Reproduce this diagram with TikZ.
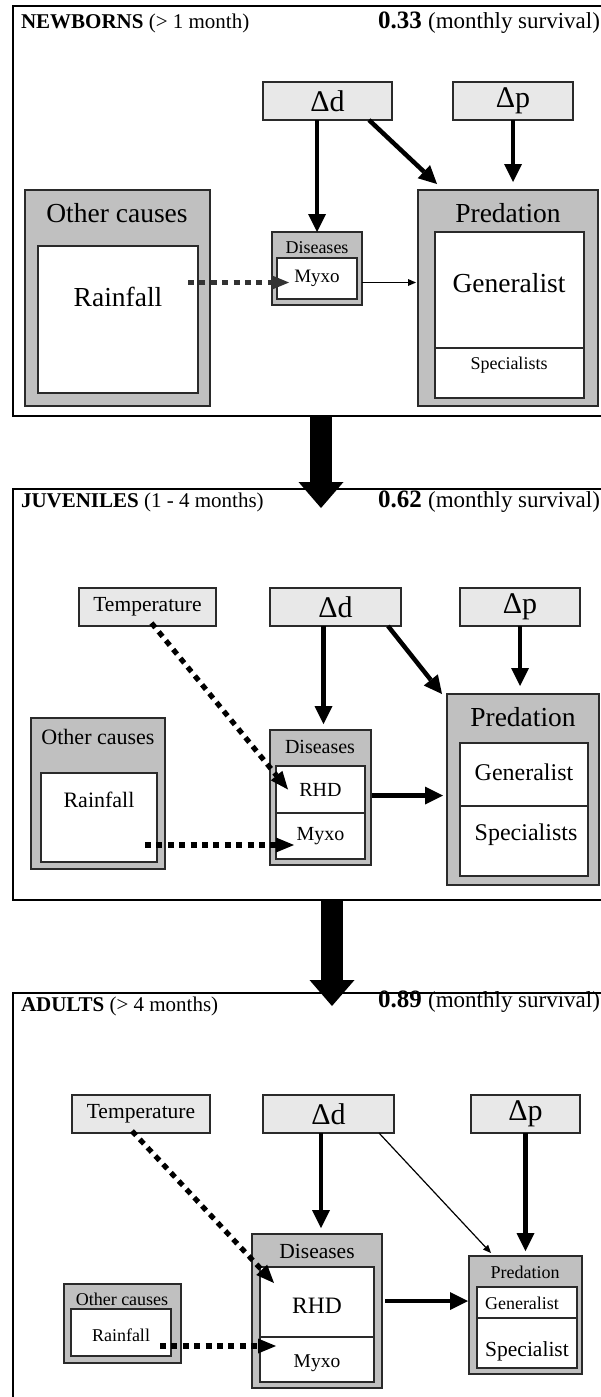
\documentclass[tikz,border=0pt]{standalone}
\usepackage{fontspec}
\setmainfont{Liberation Serif}
\usetikzlibrary{arrows.meta,calc}
\definecolor{boxgray}{HTML}{C0C0C0}
\definecolor{lightbox}{HTML}{E8E8E8}
\definecolor{edge}{HTML}{2A2A2A}
\definecolor{dotgray}{HTML}{333333}
\newcommand{\fs}[1]{\fontsize{#1}{#1}\selectfont}
\newcommand{\bx}[7]{\node[#2, minimum width={(#5-#3)*0.5pt}, minimum height={(#6-#4)*0.5pt}] (#1) at ({(#3+#5)/2},{(#4+#6)/2}) {#7};}
\begin{document}
\begin{tikzpicture}[x=0.5pt,y=-0.5pt,
  base/.style={inner sep=0pt,outer sep=0pt,line width=0.6pt,draw=edge},
  frame/.style={base,draw=black,line width=0.9pt},
  cont/.style={base,fill=boxgray},
  inner/.style={base,fill=white},
  factor/.style={base,fill=lightbox},
  txt/.style={inner sep=0pt,outer sep=0pt},
  strong/.style={line width=2.25pt,-{Triangle[length=9pt,width=9pt,line width=0pt]}},
  weak/.style={line width=0.6pt,-{Triangle[length=4pt,width=3.5pt,line width=0pt]}},
  dots/.style={line width=2.6pt,dash pattern=on 3pt off 2.7pt,-{Triangle[length=9pt,width=7.5pt,line width=0pt]}},
  big/.style={line width=11pt,-{Triangle[length=13pt,width=22.5pt,line width=0pt]}},
]
\useasboundingbox (0,0) rectangle (600,1397);
\fill[white] (0,0) rectangle (600,1397);
% frames
\bx{f1}{frame}{13}{6}{604}{416}{}
\bx{f2}{frame}{13}{489}{604}{900}{}
\bx{f3}{frame}{13}{993}{604}{1404}{}

% ---------- panel 1 ----------
\node[txt,anchor=base west] (t1) at (21,28) {\fs{10.5}\textbf{NEWBORNS} (> 1 month)};
\node[txt,anchor=base east] (s1) at (600,28) {\fs{12.5}\textbf{0.33} {\fs{11.5}(monthly survival)}};
\bx{dd1}{factor}{263}{82}{392}{120}{\fs{15}Δd}
\bx{dp1}{factor}{453}{82}{573}{120}{\fs{15}Δp}
\bx{oc1}{cont}{25}{190}{210}{406}{}
\node[txt] (oct1) at (117,213) {\fs{13.75}Other causes};
\bx{rf1}{inner}{38}{246}{198}{393}{}
\node[txt] (rft1) at (118,297) {\fs{13.75}Rainfall};
\bx{dis1}{cont}{272}{232}{362}{305}{}
\node[txt] (dist1) at (317,248) {\fs{9}Diseases};
\bx{myx1}{inner}{277}{258}{357}{299}{\fs{9.5}Myxo}
\bx{pr1}{cont}{418}{190}{598}{406}{}
\node[txt] (prt1) at (508,213) {\fs{13.75}Predation};
\bx{gen1}{inner}{435}{232}{584}{348}{}
\node[txt] (gent1) at (509,283) {\fs{13.75}Generalist};
\bx{spe1}{inner}{435}{348}{584}{398}{}
\node[txt] (spet1) at (509,365) {\fs{9}Specialists};

\draw[strong] (dis1.north |- dd1.south) -- (dis1.north);
\draw[strong] ($(dd1.south east)+(-23,0)$) -- ($(pr1.north west)+(19,-6)$);
\draw[strong] (dp1.south) -- ($(dp1.south |- pr1.north)+(0,-8)$);
\draw[dots,dotgray] ($(rf1.east |- myx1.west)+(-10,4)$) -- ($(myx1.west)+(12,4)$);
\draw[weak] ($(dis1.east |- myx1.east)+(0,4)$) -- ($(pr1.west |- myx1.east)+(-2,4)$);

\draw[big] ($(f1.south west)+(308,0)$) -- ($(f2.north west)+(308,19)$);

% ---------- panel 2 ----------
\node[txt,anchor=base west] (t2) at (21,507) {\fs{10.5}\textbf{JUVENILES} (1 - 4 months)};
\node[txt,anchor=base east] (s2) at (600,507) {\fs{12.5}\textbf{0.62} {\fs{11.5}(monthly survival)}};
\bx{tmp2}{factor}{79}{588}{216}{626}{\fs{10.75}Temperature}
\bx{dd2}{factor}{270}{588}{401}{626}{\fs{15}Δd}
\bx{dp2}{factor}{460}{588}{580}{626}{\fs{15}Δp}
\bx{oc2}{cont}{31}{718}{165}{869}{}
\node[txt] (oct2) at (98,737) {\fs{11}Other causes};
\bx{rf2}{inner}{41}{773}{157}{862}{}
\node[txt] (rft2) at (99,800) {\fs{11}Rainfall};
\bx{dis2}{cont}{270}{730}{371}{865}{}
\node[txt] (dist2) at (320,747) {\fs{10}Diseases};
\bx{rhd2}{inner}{276}{766}{365}{813}{\fs{10}RHD}
\bx{myx2}{inner}{276}{813}{365}{859}{\fs{10}Myxo}
\bx{pr2}{cont}{447}{694}{599}{885}{}
\node[txt] (prt2) at (523,717) {\fs{13.75}Predation};
\bx{gen2}{inner}{460}{743}{588}{806}{}
\node[txt] (gent2) at (524,772) {\fs{12}Generalist};
\bx{spe2}{inner}{460}{806}{588}{876}{}
\node[txt] (spet2) at (526,835) {\fs{12}Specialists};

\draw[strong] ($(dis2.north |- dd2.south)+(3,0)$) -- ($(dis2.north)+(3,-6)$);
\draw[strong] ($(dd2.south east)+(-13,0)$) -- ($(pr2.north west)+(-5,0)$);
\draw[strong] (dp2.south) -- ($(dp2.south |- pr2.north)+(0,-8)$);
\draw[dots] ($(tmp2.south)+(4,-3)$) -- ($(rhd2.west)+(12,0)$);
\draw[dots] ($(rf2.east |- myx2.west)+(-12,9)$) -- ($(myx2.west)+(18,9)$);
\draw[strong] ($(dis2.east |- rhd2.east)+(1,6)$) -- ($(pr2.west |- rhd2.east)+(-4,6)$);

\draw[big] ($(f2.south west)+(319,0)$) -- ($(f3.north west)+(319,13)$);

% ---------- panel 3 ----------
\node[txt,anchor=base west] (t3) at (21,1011) {\fs{10.5}\textbf{ADULTS} (> 4 months)};
\node[txt,anchor=base east] (s3) at (600,1007) {\fs{12.5}\textbf{0.89} {\fs{11.5}(monthly survival)}};
\bx{tmp3}{factor}{72}{1095}{210}{1133}{\fs{10.75}Temperature}
\bx{dd3}{factor}{263}{1095}{394}{1133}{\fs{15}Δd}
\bx{dp3}{factor}{471}{1095}{580}{1133}{\fs{15}Δp}
\bx{dis3}{cont}{252}{1234}{382}{1388}{}
\node[txt] (dist3) at (317,1251) {\fs{10.75}Diseases};
\bx{rhd3}{inner}{260}{1267}{374}{1337}{}
\node[txt] (rhdt3) at (317,1306) {\fs{11.75}RHD};
\bx{myx3}{inner}{260}{1337}{374}{1382}{}
\node[txt] (myxt3) at (317,1363) {\fs{9.75}Myxo};
\bx{oc3}{cont}{64}{1284}{181}{1363}{}
\node[txt] (oct3) at (122,1299) {\fs{9}Other causes};
\bx{rf3}{inner}{71}{1309}{171}{1356}{}
\node[txt] (rft3) at (121,1335) {\fs{9}Rainfall};
\bx{pr3}{cont}{469}{1256}{582}{1374}{}
\node[txt] (prt3) at (525,1272) {\fs{9}Predation};
\bx{gen3}{inner}{477}{1287}{577}{1318}{}
\node[txt] (gent3) at (522,1303) {\fs{9}Generalist};
\bx{spe3}{inner}{477}{1318}{577}{1368}{}
\node[txt] (spet3) at (527,1351) {\fs{10.75}Specialist};

\draw[strong] ($(dis3.north |- dd3.south)+(4,0)$) -- ($(dis3.north)+(4,-6)$);
\draw[weak] ($(dd3.south east)+(-15,0)$) -- ($(pr3.north west)+(22,-3)$);
\draw[strong] (dp3.south) -- ($(dp3.south |- pr3.north)+(0,-5)$);
\draw[dots] ($(tmp3.south)+(-9,-2)$) -- ($(rhd3.north west)+(14,16)$);
\draw[dots] ($(rf3.east)+(-11,13.5)$) -- ($(myx3.west)+(16,-13.5)$);
\draw[strong] ($(dis3.east |- rhd3.east)+(3,-1)$) -- ($(pr3.west |- rhd3.east)+(-1,-1)$);
\end{tikzpicture}
\end{document}
